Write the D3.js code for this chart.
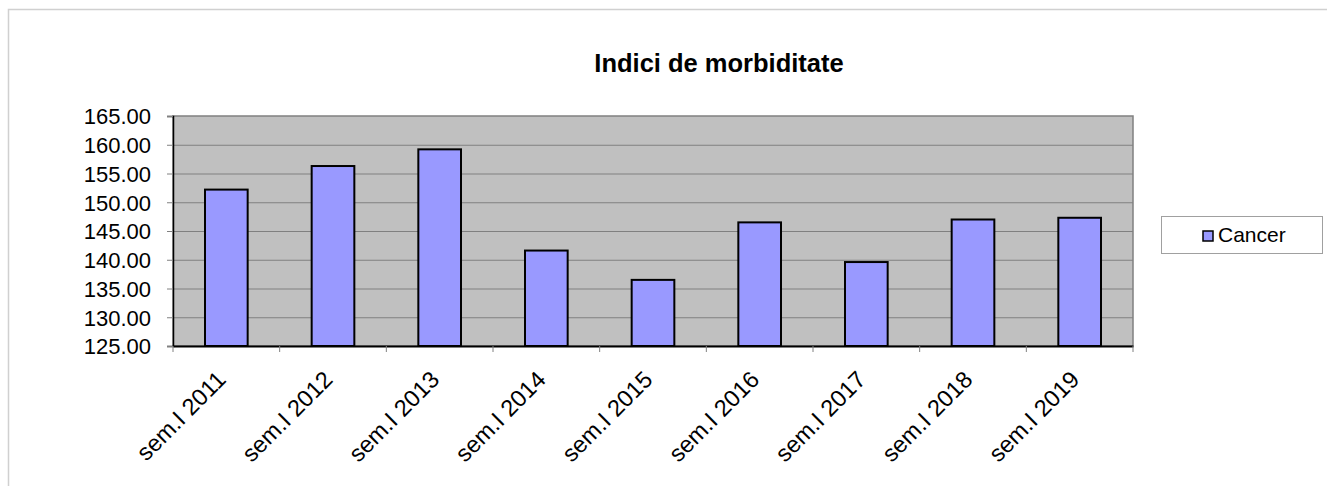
<!DOCTYPE html>
<html>
<head>
<meta charset="utf-8">
<script src="https://cdn.jsdelivr.net/npm/d3@7"></script>
<style>
  body { margin: 0; background: #fff; }
  text { font-family: "Liberation Sans", Arial, sans-serif; }
</style>
</head>
<body>
<div id="chart"></div>
<script>
const CATEGORIES = ["sem.I 2011", "sem.I 2012", "sem.I 2013", "sem.I 2014", "sem.I 2015",
                    "sem.I 2016", "sem.I 2017", "sem.I 2018", "sem.I 2019"];
const CANCER = [152.2, 156.3, 159.2, 141.6, 136.5, 146.5, 139.6, 147.0, 147.3];
const Y_TICKS = [125, 130, 135, 140, 145, 150, 155, 160, 165];
const SERIES_NAME = "Cancer";
const TITLE = "Indici de morbiditate";

const WIDTH = 1327, HEIGHT = 486;
const PLOT = { left: 173, right: 1133, top: 116, bottom: 346 };

var svg = d3.select("#chart")
  .append("svg")
  .attr("width", WIDTH)
  .attr("height", HEIGHT);

// outer chart frame (runs off the right and bottom edge)
svg.append("rect")
  .attr("x", 8.5)
  .attr("y", 9.5)
  .attr("width", WIDTH)
  .attr("height", HEIGHT)
  .attr("fill", "#fff")
  .attr("stroke", "#d0d0d0")
  .attr("stroke-width", 1.5);

var x = d3.scaleBand()
  .domain(CATEGORIES)
  .range([PLOT.left, PLOT.right]);

var y = d3.scaleLinear()
  .domain([125, 165])
  .range([PLOT.bottom, PLOT.top]);

// plot area
svg.append("rect")
  .attr("x", PLOT.left)
  .attr("y", PLOT.top)
  .attr("width", PLOT.right - PLOT.left)
  .attr("height", PLOT.bottom - PLOT.top)
  .attr("fill", "#c0c0c0")
  .attr("stroke", "#808080")
  .attr("stroke-width", 1.5);

// gridlines
svg.append("g")
  .selectAll("line")
  .data(Y_TICKS.slice(1, -1))
  .enter().append("line")
  .attr("x1", PLOT.left)
  .attr("x2", PLOT.right)
  .attr("y1", function(d) { return y(d) + 0.5; })
  .attr("y2", function(d) { return y(d) + 0.5; })
  .style("stroke", "#808080")
  .style("stroke-width", 1);

// bars
var barWidth = 0.4 * x.bandwidth();
svg.append("g")
  .selectAll("rect")
  .data(CANCER)
  .enter().append("rect")
  .attr("x", function(d, i) { return x(CATEGORIES[i]) + 0.5 * (x.bandwidth() - barWidth); })
  .attr("y", function(d) { return y(d); })
  .attr("width", barWidth)
  .attr("height", function(d) { return y(125) - y(d); })
  .attr("fill", "#9999ff")
  .attr("stroke", "#000")
  .attr("stroke-width", 2);

// y axis
var yAxis = svg.append("g")
  .attr("transform", "translate(" + PLOT.left + ",0)")
  .call(d3.axisLeft(y).tickValues(Y_TICKS).tickSize(6).tickPadding(16)
    .tickFormat(function(d) { return d.toFixed(2); }));
yAxis.select(".domain").attr("stroke", "#000").attr("stroke-width", 1.5);
yAxis.selectAll(".tick line").attr("stroke", "#808080");
yAxis.selectAll(".tick text")
  .attr("fill", "#000")
  .style("font-size", "22px")
  .attr("dy", "0.36em");

// x axis
var xAxis = svg.append("g")
  .attr("transform", "translate(0," + PLOT.bottom + ")")
  .call(d3.axisBottom(x).tickSize(0).tickFormat(""));
xAxis.select(".domain").attr("stroke", "#000").attr("stroke-width", 2);

// category separators below the axis
svg.append("g")
  .selectAll("line")
  .data(CATEGORIES.concat([null]))
  .enter().append("line")
  .attr("x1", function(d, i) { return PLOT.left + i * x.step(); })
  .attr("x2", function(d, i) { return PLOT.left + i * x.step(); })
  .attr("y1", PLOT.bottom)
  .attr("y2", PLOT.bottom + 6)
  .style("stroke", "#808080")
  .style("stroke-width", 1);

svg.append("g")
  .selectAll("text")
  .data(CATEGORIES)
  .enter().append("text")
  .attr("transform", function(d) {
    return "translate(" + (x(d) + 0.5 * x.bandwidth() + 1) + "," + (PLOT.bottom + 35) + ") rotate(-45)";
  })
  .attr("text-anchor", "end")
  .style("font-size", "23.5px")
  .attr("fill", "#000")
  .text(function(d) { return d; });

// title
svg.append("text")
  .attr("x", 719)
  .attr("y", 72)
  .attr("text-anchor", "middle")
  .style("font-size", "25.5px")
  .style("font-weight", "bold")
  .text(TITLE);

// legend
var legend = svg.append("g").attr("transform", "translate(1161,216)");
legend.append("rect")
  .attr("x", 0.5)
  .attr("y", 0.5)
  .attr("width", 161)
  .attr("height", 37)
  .attr("fill", "#fff")
  .attr("stroke", "#a0a0a0")
  .attr("stroke-width", 1);
legend.append("rect")
  .attr("x", 42)
  .attr("y", 15)
  .attr("width", 10)
  .attr("height", 10)
  .attr("fill", "#9999ff")
  .attr("stroke", "#000")
  .attr("stroke-width", 1.5);
legend.append("text")
  .attr("x", 57)
  .attr("y", 26)
  .style("font-size", "21px")
  .text(SERIES_NAME);
</script>
</body>
</html>
